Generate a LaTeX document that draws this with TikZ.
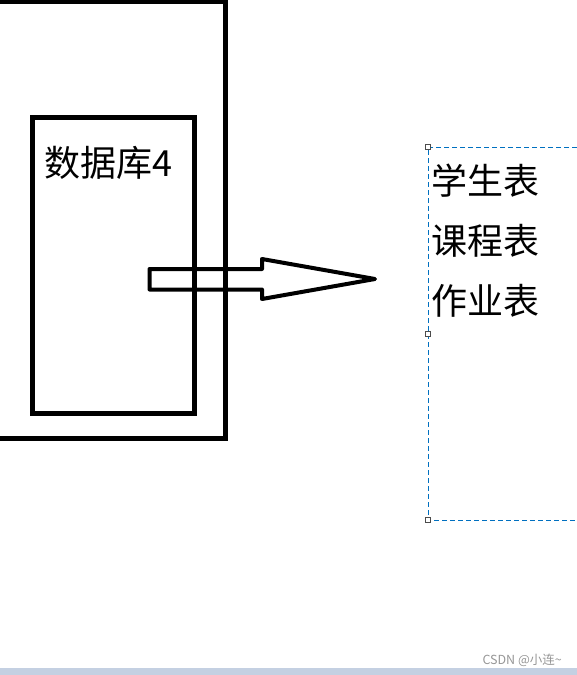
\documentclass[tikz,border=0pt]{standalone}
\usepackage{fontspec}
\setmainfont{Noto Sans CJK SC}
\definecolor{selblue}{RGB}{0,112,192}
\definecolor{markgray}{RGB}{150,150,150}
\definecolor{barblue}{RGB}{196,208,226}
\tikzset{
  boxline/.style={line width=5pt},
  bigtext/.style={font=\fontsize{36}{40}\selectfont, anchor=base west, inner sep=0pt},
  handle/.style={draw=black!70, fill=white, line width=0.8pt, minimum size=5pt, inner sep=0pt},
}

\begin{document}
\begin{tikzpicture}[x=1pt, y=-1pt]
	\useasboundingbox (0, 0) rectangle (577, 675);
	\clip (0, 0) rectangle (577, 675);

	\draw[boxline] (-5, 1) -- (225.5, 1) -- (225.5, 438.5) -- (-5, 438.5); % внешний прямоугольник
	\draw[boxline] (32.5, 117.5) rectangle (194, 413.5); % внутренний прямоугольник
	\node[bigtext] (db) at (44, 176) {数据库4};

	% стрелка
	\draw[line width=4pt, line join=round] (149.5, 269) -- (262, 269) -- (262, 259) -- (375, 279)
		-- (262, 299) -- (262, 289.5) -- (149.5, 289.5) -- cycle;

	% выделенная рамка
	\draw[selblue, line width=1pt, dash pattern=on 5pt off 3pt] (585, 147) -- (428, 147) -- (428, 520) -- (585, 520);
	\node[handle] (h1) at (428, 147) {};
	\node[handle] (h2) at (428, 334) {};
	\node[handle] (h3) at (428, 520) {};

	\node[bigtext] (t1) at (431, 194) {学生表};
	\node[bigtext] (t2) at (431, 254) {课程表};
	\node[bigtext] (t3) at (431, 314) {作业表};

	\fill[barblue] (0, 668) rectangle (577, 675);
	\node[anchor=base east, inner sep=0pt, text=markgray, font=\fontsize{12.5}{14}\selectfont] (mark) at (562, 664) {CSDN @小连\char`\~};
\end{tikzpicture}
\end{document}
